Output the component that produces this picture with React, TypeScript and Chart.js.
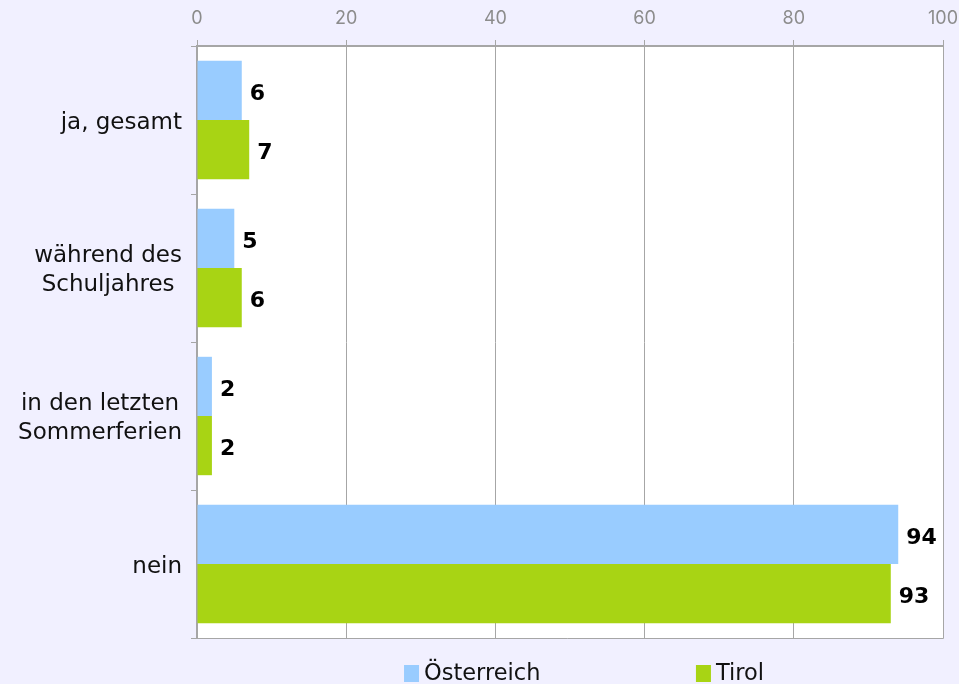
import React, { useEffect, useRef } from "react";
import { Chart, registerables } from "chart.js";

Chart.register(...registerables);

const categories: string[][] = [
  ["ja, gesamt"],
  ["während des", "Schuljahres"],
  ["in den letzten", "Sommerferien"],
  ["nein"],
];
const seriesNames = ["Österreich", "Tirol"];
const oesterreich = [6, 5, 2, 94];
const tirol = [7, 6, 2, 93];
const seriesColors = ["#99CCFF", "#A8D414"];
const xTicks = [0, 20, 40, 60, 80, 100];

const FONT = "'DejaVu Sans', Verdana, sans-serif";
const GRID = "#A6A6A6";

const bgPlugin = {
  id: "bgPlugin",
  beforeDraw(chart: any) {
    const { ctx, chartArea } = chart;
    ctx.save();
    ctx.fillStyle = "#F1F0FF";
    ctx.fillRect(0, 0, chart.width, chart.height);
    ctx.fillStyle = "#FFFFFF";
    ctx.fillRect(chartArea.left, chartArea.top, chartArea.right - chartArea.left, chartArea.bottom - chartArea.top);
    ctx.restore();
  },
  afterDatasetsDraw(chart: any) {
    const { ctx, chartArea } = chart;
    ctx.save();
    ctx.strokeStyle = GRID;
    ctx.lineWidth = 1;
    ctx.beginPath();
    ctx.moveTo(chartArea.left - 6, chartArea.bottom + 0.5);
    ctx.lineTo(chartArea.right + 0.5, chartArea.bottom + 0.5);
    ctx.lineTo(chartArea.right + 0.5, chartArea.top);
    ctx.stroke();
    ctx.restore();
  },
};

const yLabelPlugin = {
  id: "yLabelPlugin",
  afterDraw(chart: any) {
    const { ctx } = chart;
    const scale = chart.scales.y;
    const size = 23;
    const lh = 29;
    ctx.save();
    ctx.font = `${size}px ${FONT}`;
    ctx.fillStyle = "#111111";
    ctx.textBaseline = "middle";
    ctx.textAlign = "center";
    const right = chart.chartArea.left - 15;
    categories.forEach((lines, i) => {
      const cy = scale.getPixelForTick(i) + 3;
      const w = Math.max(...lines.map((l) => ctx.measureText(l).width));
      const cx = right - w / 2;
      const y0 = cy - ((lines.length - 1) * lh) / 2;
      lines.forEach((l, k) => ctx.fillText(l, cx, y0 + k * lh));
    });
    ctx.restore();
  },
};

const labelPlugin = {
  id: "labelPlugin",
  afterDatasetsDraw(chart: any) {
    const { ctx } = chart;
    ctx.save();
    ctx.font = `bold 22px ${FONT}`;
    ctx.fillStyle = "#000000";
    ctx.textAlign = "left";
    ctx.textBaseline = "middle";
    chart.data.datasets.forEach((ds: any, i: number) => {
      const meta = chart.getDatasetMeta(i);
      meta.data.forEach((bar: any, j: number) => {
        ctx.fillText(String(ds.data[j]), bar.x + 8, bar.y + 4);
      });
    });
    ctx.restore();
  },
};

const legendPlugin = {
  id: "customLegend",
  afterDraw(chart: any) {
    const { ctx } = chart;
    const positions = [0.4213, 0.7257];
    ctx.save();
    ctx.font = `22.5px ${FONT}`;
    ctx.textBaseline = "middle";
    ctx.textAlign = "left";
    seriesNames.forEach((name, i) => {
      const x = chart.width * positions[i];
      const y = chart.height - 10;
      ctx.fillStyle = seriesColors[i];
      ctx.fillRect(x, y - 9, 15, 17);
      ctx.fillStyle = "#111111";
      ctx.fillText(name, x + 20, y);
    });
    ctx.restore();
  },
};

export default function App() {
  const ref = useRef<HTMLCanvasElement>(null);
  useEffect(() => {
    if (!ref.current) return;
    const chart = new Chart(ref.current, {
      type: "bar",
      data: {
        labels: categories.map((c) => c.join(" ")),
        datasets: [
          { label: seriesNames[0], data: oesterreich, backgroundColor: seriesColors[0], categoryPercentage: 0.8, barPercentage: 1 },
          { label: seriesNames[1], data: tirol, backgroundColor: seriesColors[1], categoryPercentage: 0.8, barPercentage: 1 },
        ],
      },
      options: {
        indexAxis: "y",
        responsive: false,
        animation: false,
        layout: { padding: { left: 0, right: 16, top: 0, bottom: 46 } },
        plugins: { legend: { display: false }, tooltip: { enabled: false } },
        scales: {
          x: {
            position: "top",
            min: 0,
            max: 100,
            afterBuildTicks(scale: any) {
              scale.ticks = xTicks.map((v) => ({ value: v }));
            },
            afterFit(scale: any) {
              scale.height = 46;
              scale.paddingLeft = 0;
              scale.paddingRight = 0;
            },
            grid: { color: GRID, tickLength: 6, lineWidth: 1 },
            border: { color: GRID, width: 2 },
            ticks: { color: "#8C8C8C", font: { family: "Inter, sans-serif", size: 18 }, padding: 11 },
          },
          y: {
            afterFit(scale: any) {
              scale.width = 197;
            },
            grid: { color: GRID, drawOnChartArea: false, tickLength: 6, offset: true },
            border: { color: GRID, width: 2 },
            ticks: { display: false },
          },
        },
      },
      plugins: [bgPlugin, labelPlugin, yLabelPlugin, legendPlugin],
    });
    return () => chart.destroy();
  }, []);
  return (
    <div style={{ position: "fixed", left: 0, top: 0, width: 959, height: 684 }}>
      <canvas ref={ref} width={959} height={684} style={{ width: 959, height: 684 }} />
    </div>
  );
}
